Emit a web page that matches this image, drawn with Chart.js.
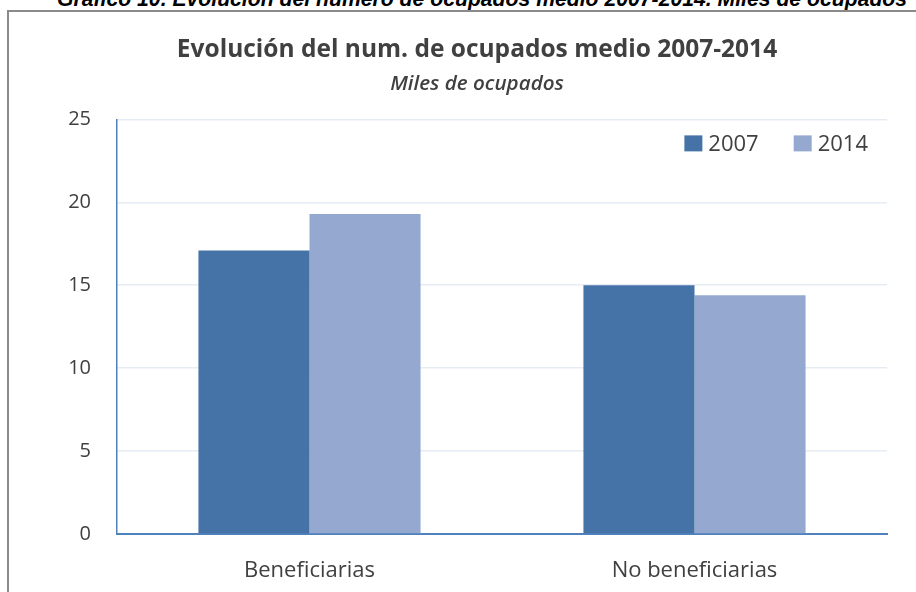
<!DOCTYPE html>
<html>
<head>
<meta charset="utf-8">
<script src="https://cdn.jsdelivr.net/npm/chart.js@4"></script>
<style>
  html, body { margin: 0; padding: 0; background: #fff; overflow: hidden; }
  body { width: 916px; height: 592px; position: relative; }
  #caption {
    position: absolute; left: 57px; top: -12px; white-space: nowrap;
    font: italic bold 21.2px "Liberation Sans", Arial, sans-serif; line-height: 21px; color: #000;
  }
  #box {
    position: absolute; left: 7px; top: 10px; width: 936px; height: 590px;
    border: 2px solid #8a8a8a; background: #fff;
  }
  canvas { display: block; }
</style>
</head>
<body>
<div id="caption">Gráfico 10. Evolución del número de ocupados medio 2007-2014. Miles de ocupados</div>
<div id="box"><canvas id="grafico" width="936" height="590"></canvas></div>
<script>
  const categorias = ["Beneficiarias", "No beneficiarias"];
  const anios = ["2007", "2014"];
  const valores2007 = [17.1, 15.0];
  const valores2014 = [19.3, 14.4];
  const ticksY = [0, 5, 10, 15, 20, 25];

  const colores = ['#4673a7', '#95a9d0'];
  const gris = '#404040';
  const fuente = '"Open Sans", sans-serif';

  // leyenda dibujada dentro del area del grafico, arriba a la derecha
  const leyendaDentro = {
    id: 'leyendaDentro',
    afterDraw(chart) {
      const ctx = chart.ctx;
      const area = chart.chartArea;
      ctx.save();
      ctx.font = '22px ' + fuente;
      ctx.textBaseline = 'middle';
      const caja = 18, sep = 6, hueco = 35;
      const items = chart.data.datasets.map(d => ({ label: d.label, color: d.backgroundColor }));
      let total = 0;
      items.forEach((it, i) => {
        total += caja + sep + ctx.measureText(it.label).width + (i < items.length - 1 ? hueco : 0);
      });
      let x = area.right - 19 - total;
      const y = area.top + 24;
      items.forEach(it => {
        ctx.fillStyle = it.color;
        ctx.fillRect(x, y - 8, caja, 16);
        x += caja + sep;
        ctx.fillStyle = gris;
        ctx.fillText(it.label, x, y + 1);
        x += ctx.measureText(it.label).width + hueco;
      });
      ctx.restore();
    }
  };

  new Chart(document.getElementById('grafico'), {
    type: 'bar',
    data: {
      labels: categorias,
      datasets: [
        { label: anios[0], data: valores2007, backgroundColor: colores[0] },
        { label: anios[1], data: valores2014, backgroundColor: colores[1] }
      ]
    },
    options: {
      responsive: false,
      animation: false,
      layout: { padding: 0 },
      datasets: { bar: { categoryPercentage: 0.577, barPercentage: 1.0 } },
      plugins: {
        legend: { display: false },
        tooltip: { enabled: false },
        title: {
          display: true,
          text: 'Evolución del num. de ocupados medio 2007-2014',
          color: gris,
          font: { family: fuente, size: 24.5, weight: 'bold', lineHeight: 1.25 },
          padding: { top: 23, bottom: 6 }
        },
        subtitle: {
          display: true,
          text: 'Miles de ocupados',
          color: gris,
          font: { family: fuente, size: 20.6, style: 'italic', weight: '600', lineHeight: 1.25 },
          padding: { top: 0, bottom: 22 }
        }
      },
      scales: {
        x: {
          grid: { display: false },
          border: { color: '#4f81bd', width: 2 },
          ticks: { color: gris, font: { family: fuente, size: 22 }, padding: 16 },
          afterFit(scale) { scale.height = 68; }
        },
        y: {
          min: 0,
          max: 25,
          afterBuildTicks(scale) { scale.ticks = ticksY.map(v => ({ value: v })); },
          grid: { color: '#e6ecf4', lineWidth: 1.5, drawTicks: false },
          border: { color: '#4f81bd', width: 1.5 },
          ticks: { color: gris, font: { family: fuente, size: 20 }, padding: 26 },
          afterFit(scale) { scale.width = 108; }
        },
        // eje vacio a la derecha solo para reservar el margen sin descentrar el titulo
        margen: {
          type: 'linear',
          position: 'right',
          display: true,
          grid: { display: false },
          border: { display: false },
          ticks: { display: false },
          afterFit(scale) { scale.width = 58; }
        }
      }
    },
    plugins: [leyendaDentro]
  });
</script>
</body>
</html>
